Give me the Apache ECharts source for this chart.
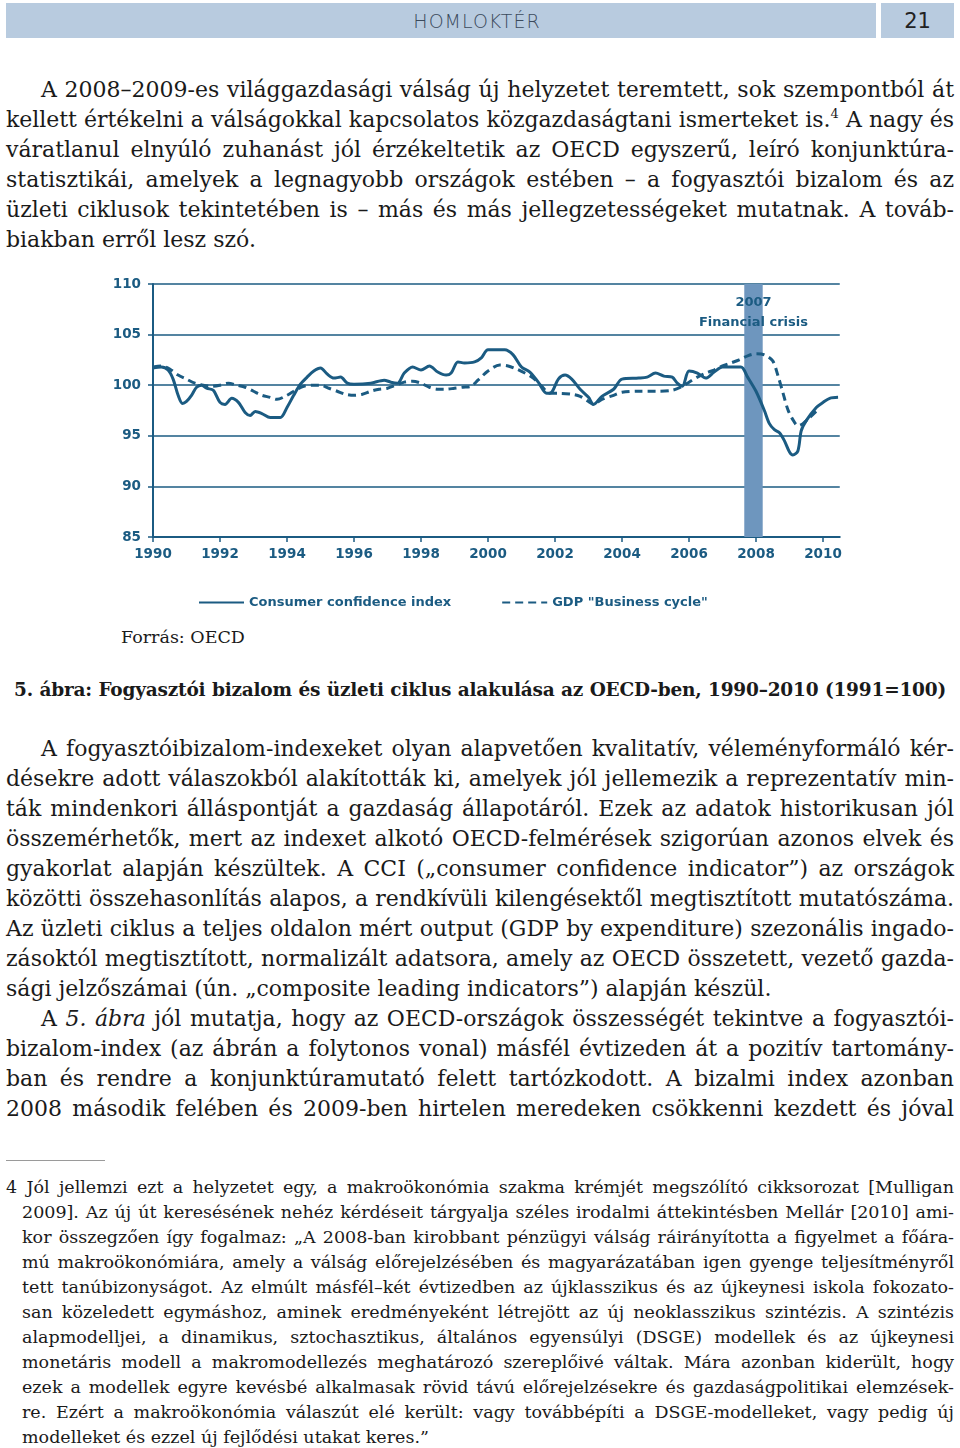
<!DOCTYPE html>
<html lang="hu">
<head>
<meta charset="utf-8">
<script src="https://cdn.jsdelivr.net/npm/echarts@6/dist/echarts.min.js"></script>
<style>
  html, body { margin:0; padding:0; background:#fff; }
  body { width:960px; height:1448px; position:relative; overflow:hidden; font-family:"DejaVu Serif", serif; color:#1a1a1a; }
  .hdr { position:absolute; top:3px; height:35px; background:#b8cbdf; }
  .hdr1 { left:6px; width:870px; }
  .hdr2 { left:881px; width:73px; }
  .hdrtxt { position:absolute; top:0; left:0; right:0; line-height:36px; text-align:center; }
  .block { position:absolute; left:6px; width:948px; }
  .ln { height:30px; line-height:30px; font-size:22px; text-align:justify; text-align-last:justify; }
  .ln.end { text-align-last:left; }
  .ind { text-indent:35px; }
  .fn .ln { height:25px; line-height:25px; font-size:17.5px; }
  .fn .ln.sub { padding-left:16px; }
  sup { font-size:13px; line-height:0; vertical-align:9px; }
  #chart { position:absolute; left:0; top:260px; width:960px; height:360px; }
</style>
</head>
<body>
<div class="hdr hdr1"><div class="hdrtxt" style="font-family:'DejaVu Sans',sans-serif;font-weight:200;font-size:19px;letter-spacing:1px;color:#3b4a5c;padding-left:72px;">HOMLOKTÉR</div></div>
<div class="hdr hdr2"><div class="hdrtxt" style="font-family:'DejaVu Sans',sans-serif;font-size:21px;color:#222;">21</div></div>

<div class="block" style="top:75px;">
  <div class="ln ind">A 2008–2009-es világgazdasági válság új helyzetet teremtett, sok szempontból át</div>
  <div class="ln">kellett értékelni a válságokkal kapcsolatos közgazdaságtani ismerteket is.<sup>4</sup> A nagy és</div>
  <div class="ln">váratlanul elnyúló zuhanást jól érzékeltetik az OECD egyszerű, leíró konjunktúra-</div>
  <div class="ln">statisztikái, amelyek a legnagyobb országok estében – a fogyasztói bizalom és az</div>
  <div class="ln">üzleti ciklusok tekintetében is – más és más jellegzetességeket mutatnak. A továb-</div>
  <div class="ln end">biakban erről lesz szó.</div>
</div>

<div id="chart"></div>

<div style="position:absolute; left:121px; top:625px; font-size:17.5px; line-height:24px;">Forrás: OECD</div>
<div class="block" style="top:677px; left:14px; width:932px;">
  <div class="ln" style="font-size:18.5px; font-weight:bold; height:26px; line-height:26px;">5. ábra: Fogyasztói bizalom és üzleti ciklus alakulása az OECD-ben, 1990–2010 (1991=100)</div>
</div>

<div class="block" style="top:734px;">
  <div class="ln ind">A fogyasztóibizalom-indexeket olyan alapvetően kvalitatív, véleményformáló kér-</div>
  <div class="ln">désekre adott válaszokból alakították ki, amelyek jól jellemezik a reprezentatív min-</div>
  <div class="ln">ták mindenkori álláspontját a gazdaság állapotáról. Ezek az adatok historikusan jól</div>
  <div class="ln">összemérhetők, mert az indexet alkotó OECD-felmérések szigorúan azonos elvek és</div>
  <div class="ln">gyakorlat alapján készültek. A CCI („consumer confidence indicator”) az országok</div>
  <div class="ln">közötti összehasonlítás alapos, a rendkívüli kilengésektől megtisztított mutatószáma.</div>
  <div class="ln">Az üzleti ciklus a teljes oldalon mért output (GDP by expenditure) szezonális ingado-</div>
  <div class="ln">zásoktól megtisztított, normalizált adatsora, amely az OECD összetett, vezető gazda-</div>
  <div class="ln end">sági jelzőszámai (ún. „composite leading indicators”) alapján készül.</div>
  <div class="ln ind">A <i>5. ábra</i> jól mutatja, hogy az OECD-országok összességét tekintve a fogyasztói-</div>
  <div class="ln">bizalom-index (az ábrán a folytonos vonal) másfél évtizeden át a pozitív tartomány-</div>
  <div class="ln">ban és rendre a konjunktúramutató felett tartózkodott. A bizalmi index azonban</div>
  <div class="ln">2008 második felében és 2009-ben hirtelen meredeken csökkenni kezdett és jóval</div>
</div>

<div style="position:absolute; left:6px; top:1160px; width:99px; height:1px; background:#9a9a9a;"></div>

<div class="block fn" style="top:1175px;">
  <div class="ln">4 Jól jellemzi ezt a helyzetet egy, a makroökonómia szakma krémjét megszólító cikksorozat [Mulligan</div>
  <div class="ln sub">2009]. Az új út keresésének nehéz kérdéseit tárgyalja széles irodalmi áttekintésben Mellár [2010] ami-</div>
  <div class="ln sub">kor összegzően így fogalmaz: „A 2008-ban kirobbant pénzügyi válság ráirányította a figyelmet a főára-</div>
  <div class="ln sub">mú makroökonómiára, amely a válság előrejelzésében és magyarázatában igen gyenge teljesítményről</div>
  <div class="ln sub">tett tanúbizonyságot. Az elmúlt másfél–két évtizedben az újklasszikus és az újkeynesi iskola fokozato-</div>
  <div class="ln sub">san közeledett egymáshoz, aminek eredményeként létrejött az új neoklasszikus szintézis. A szintézis</div>
  <div class="ln sub">alapmodelljei, a dinamikus, sztochasztikus, általános egyensúlyi (DSGE) modellek és az újkeynesi</div>
  <div class="ln sub">monetáris modell a makromodellezés meghatározó szereplőivé váltak. Mára azonban kiderült, hogy</div>
  <div class="ln sub">ezek a modellek egyre kevésbé alkalmasak rövid távú előrejelzésekre és gazdaságpolitikai elemzések-</div>
  <div class="ln sub">re. Ezért a makroökonómia válaszút elé került: vagy továbbépíti a DSGE-modelleket, vagy pedig új</div>
  <div class="ln sub end">modelleket és ezzel új fejlődési utakat keres.”</div>
</div>

<script>
// ---- data ----
const consumerConfidence = [
  [1990.0,101.7],[1990.25,101.8],[1990.45,101.5],[1990.6,100.6],[1990.75,99.0],[1990.88,98.2],
  [1991.0,98.4],[1991.15,99.0],[1991.3,99.8],[1991.45,100.0],[1991.6,99.7],[1991.8,99.5],
  [1992.0,98.3],[1992.15,98.1],[1992.35,98.7],[1992.55,98.3],[1992.75,97.3],[1992.9,97.0],
  [1993.05,97.4],[1993.25,97.2],[1993.5,96.8],[1993.8,96.8],[1994.0,97.8],[1994.2,99.0],
  [1994.4,100.1],[1994.6,100.8],[1994.8,101.4],[1995.0,101.7],[1995.2,101.1],[1995.4,100.7],
  [1995.6,100.8],[1995.8,100.2],[1996.0,100.1],[1996.5,100.2],[1996.9,100.5],[1997.1,100.3],
  [1997.3,100.2],[1997.5,101.2],[1997.75,101.8],[1998.0,101.5],[1998.25,101.9],[1998.5,101.3],
  [1998.75,101.0],[1998.9,101.2],[1999.1,102.3],[1999.3,102.2],[1999.6,102.3],[1999.8,102.7],
  [2000.0,103.5],[2000.5,103.5],[2000.75,103.0],[2001.0,101.8],[2001.25,101.3],[2001.5,100.3],
  [2001.75,99.2],[2001.9,99.3],[2002.1,100.6],[2002.3,101.0],[2002.5,100.6],[2002.75,99.6],
  [2003.0,98.8],[2003.15,98.1],[2003.4,98.9],[2003.75,99.6],[2004.0,100.6],[2004.5,100.7],
  [2004.75,100.8],[2005.0,101.2],[2005.25,100.9],[2005.5,100.8],[2005.65,100.2],[2005.8,99.9],
  [2006.0,101.4],[2006.25,101.2],[2006.5,100.7],[2006.75,101.3],[2007.0,101.8],[2007.55,101.8],
  [2007.75,100.8],[2008.0,99.4],[2008.25,97.5],[2008.4,96.2],[2008.55,95.6],[2008.7,95.3],
  [2008.85,94.5],[2009.0,93.4],[2009.1,93.1],[2009.25,93.5],[2009.35,95.5],[2009.5,96.5],
  [2009.8,97.8],[2010.0,98.3],[2010.2,98.7],[2010.45,98.8]
];
const businessCycle = [
  [1990.0,101.8],[1990.25,101.9],[1990.5,101.6],[1990.75,101.0],[1991.0,100.6],[1991.25,100.2],
  [1991.5,100.0],[1991.75,99.9],[1992.0,100.0],[1992.25,100.2],[1992.5,100.0],[1992.75,99.8],
  [1993.0,99.4],[1993.25,99.0],[1993.5,98.8],[1993.7,98.6],[1994.0,99.0],[1994.25,99.5],
  [1994.5,99.9],[1994.75,100.0],[1995.0,100.0],[1995.25,99.7],[1995.5,99.4],[1995.75,99.1],
  [1996.0,99.0],[1996.25,99.1],[1996.5,99.4],[1996.75,99.6],[1997.0,99.7],[1997.25,100.0],
  [1997.5,100.3],[1997.75,100.4],[1998.0,100.2],[1998.25,99.8],[1998.5,99.6],[1998.75,99.6],
  [1999.0,99.7],[1999.25,99.8],[1999.5,99.9],[1999.7,100.5],[2000.0,101.4],[2000.35,102.0],
  [2000.6,101.9],[2000.85,101.6],[2001.1,101.2],[2001.35,100.7],[2001.6,99.9],[2001.85,99.2],
  [2002.1,99.2],[2002.5,99.1],[2002.75,98.9],[2003.0,98.4],[2003.15,98.1],[2003.4,98.6],
  [2003.75,99.0],[2004.0,99.3],[2004.5,99.4],[2005.0,99.4],[2005.5,99.5],[2005.75,99.8],
  [2006.0,100.3],[2006.25,100.8],[2006.5,101.2],[2006.75,101.5],[2007.0,101.9],[2007.25,102.2],
  [2007.5,102.5],[2007.75,102.9],[2008.0,103.1],[2008.25,103.0],[2008.5,102.4],[2008.65,101.0],
  [2008.8,99.3],[2008.95,97.6],[2009.1,96.6],[2009.25,96.0],[2009.4,96.2],[2009.6,96.8],
  [2009.85,97.6]
];
const crisisBand = [2007.65, 2008.2];
const crisisLabel = '2007\nFinancial crisis';
const seriesNames = ['Consumer confidence index', 'GDP "Business cycle"'];
const xTickYears = [1990,1992,1994,1996,1998,2000,2002,2004,2006,2008,2010];
const xRange = [1990, 2010.5];
const yRange = [85, 110];
const yStep = 5;

// ---- fit justified lines (avoid wrapping) ----
document.querySelectorAll('.ln').forEach(el => {
  const cs = getComputedStyle(el);
  const s = document.createElement('span');
  s.style.cssText = 'position:absolute;visibility:hidden;white-space:nowrap;';
  s.style.fontFamily = cs.fontFamily; s.style.fontSize = cs.fontSize; s.style.fontWeight = cs.fontWeight;
  s.innerHTML = el.innerHTML;
  document.body.appendChild(s);
  const w = s.getBoundingClientRect().width;
  const avail = el.clientWidth - parseFloat(cs.paddingLeft) - (parseFloat(cs.textIndent) || 0) - 3;
  if (w > avail) {
    const n = el.textContent.length;
    el.style.letterSpacing = ((avail - w) / n) + 'px';
  }
  s.remove();
});

// ---- chart ----
const C = '#1b5b82';
const chart = echarts.init(document.getElementById('chart'), null, { renderer: 'canvas' });
chart.setOption({
  animation: false,
  textStyle: { fontFamily: 'DejaVu Sans' },
  grid: { left: 153, top: 24, width: 686.75, height: 253, containLabel: false },
  legend: {
    data: seriesNames, left: 193, top: 331, itemWidth: 45, itemHeight: 12, itemGap: 50,
    itemStyle: { opacity: 0 },
    textStyle: { color: C, fontWeight: 'bold', fontSize: 13, fontFamily: 'DejaVu Sans' }
  },
  xAxis: {
    type: 'value', min: xRange[0], max: xRange[1], interval: 2,
    axisLine: { show: true, lineStyle: { color: C, width: 2 } },
    axisTick: { show: true, length: 5, lineStyle: { color: C, width: 1.5 }, customValues: xTickYears },
    axisLabel: { color: C, fontWeight: 'bold', fontSize: 13.5, margin: 10, customValues: xTickYears,
      formatter: v => String(Math.round(v)) },
    splitLine: { show: false }
  },
  yAxis: {
    type: 'value', min: yRange[0], max: yRange[1], interval: yStep,
    axisLine: { show: true, lineStyle: { color: C, width: 2 } },
    axisTick: { show: true, length: 5, lineStyle: { color: C, width: 1.5 } },
    axisLabel: { color: C, fontWeight: 'bold', fontSize: 13.5, margin: 12 },
    splitLine: { show: true, lineStyle: { color: C, width: 1.6 } }
  },
  series: [
    {
      type: 'line', data: [], z: 1, silent: true,
      markArea: {
        silent: true,
        itemStyle: { color: '#6e96be', opacity: 1 },
        label: { show: true, position: 'insideTop', distance: 9, color: C, fontWeight: 'bold',
          fontSize: 13, lineHeight: 20, align: 'center', fontFamily: 'DejaVu Sans' },
        data: [[{ xAxis: crisisBand[0], name: crisisLabel }, { xAxis: crisisBand[1] }]]
      }
    },
    {
      name: seriesNames[0], type: 'line', data: consumerConfidence, symbol: 'none', smooth: 0.3, z: 3,
      lineStyle: { color: C, width: 3 }, itemStyle: { color: C }
    },
    {
      name: seriesNames[1], type: 'line', data: businessCycle, symbol: 'none', smooth: 0.3, z: 3,
      lineStyle: { color: C, width: 3, type: [8, 5] }, itemStyle: { color: C }
    }
  ]
});
</script>
</body>
</html>
